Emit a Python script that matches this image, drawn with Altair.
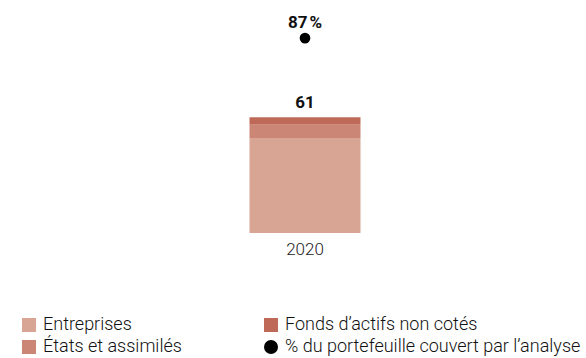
import altair as alt
import pandas as pd

years = ["2020"]
series = ["Entreprises", "Fonds d’actifs non cotés", "États et assimilés"]
values = [50, 4, 7]
stack_order = [0, 2, 1]
coverage_label = "% du portefeuille couvert par l’analyse"
coverage = [87]
colors = ["#D8A594", "#BF6A58", "#CB8675", "#000000"]

bars = pd.DataFrame({
    "year": years * len(series),
    "series": series,
    "value": values,
    "order": stack_order,
})
totals = bars.groupby("year", as_index=False)["value"].sum()
pts = pd.DataFrame({"year": years, "series": [coverage_label], "pct": coverage})
pts["label"] = pts["pct"].astype(int).astype(str) + "\u202f%"

legend_domain = ["Entreprises", "Fonds d’actifs non cotés", "États et assimilés", coverage_label]

x = alt.X("year:N", title=None, axis=alt.Axis(labelAngle=0, domain=False, ticks=False,
          labelFontSize=17, labelFont="Roboto", labelFontWeight=300, labelColor="#222222", labelPadding=8))

leg = alt.Legend(title=None, orient="none", legendX=-5, legendY=307, columns=2, direction="horizontal",
        columnPadding=80, rowPadding=4, labelFont="Roboto", labelFontSize=18, labelFontWeight=300,
        labelColor="#111111", symbolStrokeWidth=0, labelOffset=5, symbolOpacity=1, labelLimit=0)

color = alt.Color("series:N", scale=alt.Scale(domain=legend_domain, range=colors), legend=leg)
shape = alt.Shape("series:N", scale=alt.Scale(domain=legend_domain, range=["square", "square", "square", "circle"]), legend=leg)
size = alt.Size("series:N", scale=alt.Scale(domain=legend_domain, range=[196, 196, 196, 80]), legend=leg)

yb = alt.Scale(domain=[0, 118])
bar = alt.Chart(bars).mark_bar(size=111).encode(
    x=x,
    y=alt.Y("value:Q", stack="zero", scale=yb, axis=None),
    color=color,
    order=alt.Order("order:Q"),
)
tot = alt.Chart(totals).mark_text(font="Roboto", fontWeight="bold", fontSize=17, baseline="bottom", dy=-5, color="#111111").encode(
    x=x, y=alt.Y("value:Q", scale=yb, axis=None), text="value:Q")

yp = alt.Scale(domain=[0, 100])
# legend carrier (invisible) for shapes and sizes
pt_leg = alt.Chart(pts).mark_point(filled=True, opacity=0).encode(
    x=x, y=alt.Y("pct:Q", scale=yp, axis=None), color=color, shape=shape, size=size)
pt = alt.Chart(pts).mark_point(filled=True, opacity=1, size=115, shape="circle", color="#000000").encode(
    x=x, y=alt.Y("pct:Q", scale=yp, axis=None))
ptxt = alt.Chart(pts).mark_text(font="Roboto", fontWeight="bold", fontSize=17, baseline="bottom", dy=-6, color="#111111").encode(
    x=x, y=alt.Y("pct:Q", scale=yp, axis=None), text="label:N")

chart = alt.layer(alt.layer(bar, tot), alt.layer(pt_leg, pt, ptxt)).resolve_scale(y="independent").properties(
    width=560, height=224,
    padding={"left": 25, "top": 9, "right": 1, "bottom": 125},
    autosize=alt.AutoSizeParams(type="none"),
).configure_view(stroke=None).configure_axis(grid=False)

chart.save("out.html", embed_options={"renderer": "svg", "actions": False})
